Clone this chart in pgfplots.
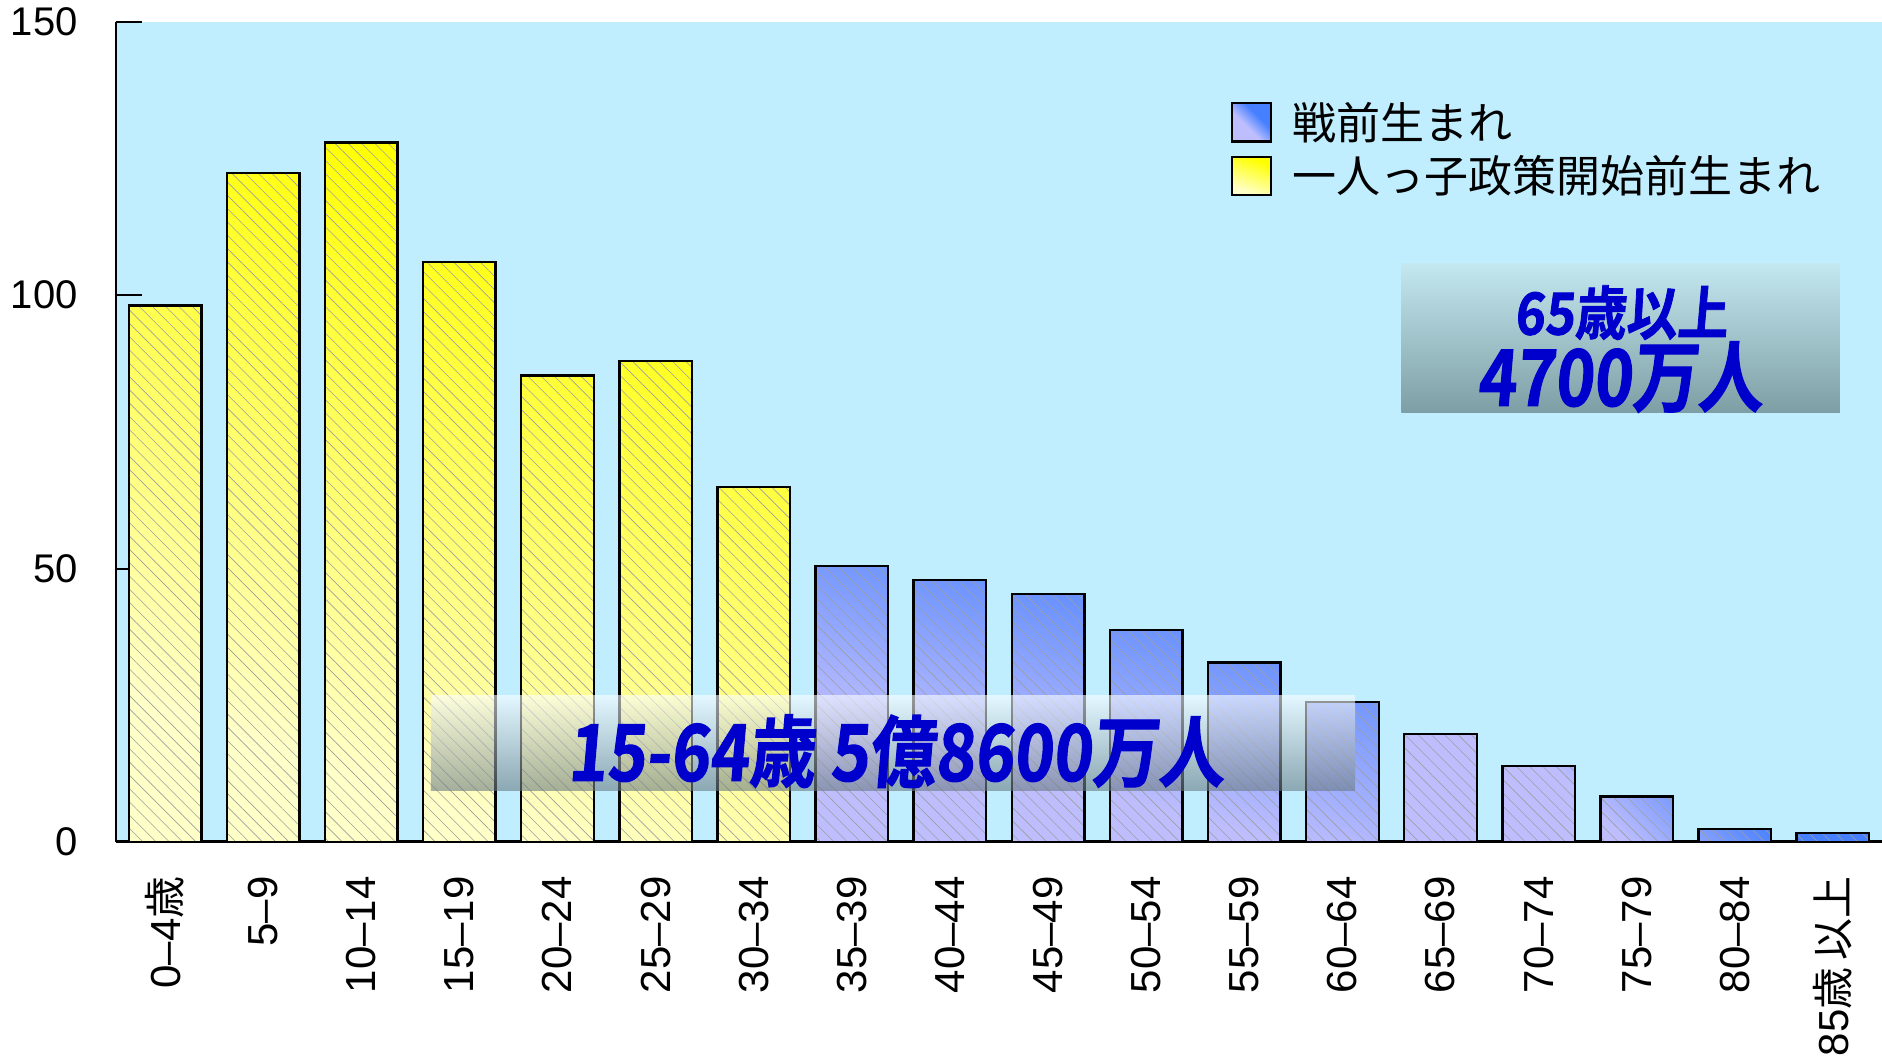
\documentclass[border=0pt]{standalone}
\usepackage{pgfplots}
\pgfplotsset{compat=1.18}
\usetikzlibrary{patterns.meta}
\usepackage{fontspec}
\setmainfont{Liberation Sans}
\newfontfamily\cjk{Noto Sans CJK JP}
\newfontfamily\cjkb[FakeSlant=0.1,FakeBold=1.5]{Noto Sans CJK JP Bold}

\definecolor{bgcyan}{RGB}{192,238,255}
\definecolor{ytop}{RGB}{255,255,0}
\definecolor{ybot}{RGB}{255,255,200}
\definecolor{btop}{RGB}{70,128,255}
\definecolor{bbot}{RGB}{190,190,255}
\definecolor{tblue}{RGB}{0,0,204}
\definecolor{boxAtop}{RGB}{196,232,240}
\definecolor{boxAbot}{RGB}{125,158,164}
\definecolor{boxBtop}{RGB}{250,253,255}
\definecolor{boxBbot}{RGB}{105,122,130}

\pgfdeclareverticalshading{yshade}{100bp}{color(0bp)=(ybot); color(28bp)=(ybot); color(72bp)=(ytop); color(100bp)=(ytop)}
\pgfdeclareverticalshading{bshade}{100bp}{color(0bp)=(bbot); color(37bp)=(bbot); color(75bp)=(btop); color(100bp)=(btop)}
\pgfdeclareverticalshading{dshade}{100bp}{color(0bp)=(bbot); color(42bp)=(bbot); color(62bp)=(btop); color(100bp)=(btop)}
\pgfdeclareverticalshading{boxBshade}{100bp}{color(0bp)=(boxBbot); color(25bp)=(boxBbot); color(60bp)=(boxBtop!70!boxBbot); color(75bp)=(boxBtop); color(100bp)=(boxBtop)}

\tikzset{
  hatchfill/.style={pattern={Lines[angle=-45,distance=4.7pt,line width=0.3pt]}, pattern color=black!38},
}

\begin{document}
\begin{tikzpicture}
\begin{axis}[
  scale only axis, width=883pt, height=410.2pt,
  xmin=-0.5, xmax=17.5, ymin=0, ymax=150,
  axis x line=bottom, axis y line=left,
  axis line style={-, black},
  x axis line style={line width=1.5pt},
  y axis line style={line width=1pt},
  ytick={0,50,100,150},
  xtick={0,...,17},
  xticklabels={{0–4{\cjk 歳}},5–9,10–14,15–19,20–24,25–29,30–34,35–39,40–44,45–49,50–54,55–59,60–64,65–69,70–74,75–79,80–84,{85{\cjk 歳\,以上}}},
  tick align=inside,
  major tick length=13pt,
  ytick style={line width=1pt, black},
  xtick style={draw=none},
  yticklabel style={font=\fontsize{20}{20}\selectfont, inner sep=0pt, xshift=-19pt},
  xticklabel style={font=\fontsize{21}{21}\selectfont, inner sep=0pt, yshift=-17pt, rotate=90, anchor=east},
  /pgf/number format/assume math mode=true,
  axis background/.style={fill=bgcyan},
  clip=false,
  legend cell align=left,
  legend style={at={(0.631,0.902)}, anchor=north west, draw=none, fill=none, inner sep=0pt,
    row sep=6.5pt, font=\cjk\fontsize{22}{22}\selectfont,
    nodes={inner sep=0pt, anchor=west},
    /tikz/every odd column/.append style={column sep=10pt}},
  legend image code/.code={\draw[#1,/tikz/.cd,line width=1pt] (0pt,-9.5pt) rectangle (19.5pt,9.5pt);
     \fill[pattern={Lines[angle=-45,distance=2pt,line width=0.3pt]}, pattern color=black!38] (0pt,-9.5pt) rectangle (19.5pt,9.5pt);
     \draw[line width=1pt] (0pt,-9.5pt) rectangle (19.5pt,9.5pt);},
]
% shaded bars
\addplot[ybar, bar width=0.74, bar shift=0pt, draw=black, line width=1.2pt, shade, shading=dshade, shading angle=-45]
  coordinates {(13,19.7) (14,13.95) (15,8.35) (16,2.35) (17,1.6)};
\addlegendentry{戦前生まれ}
\addplot[ybar, bar width=0.74, bar shift=0pt, draw=black, line width=1.2pt, shade, shading=yshade, shading angle=-20]
  coordinates {(0,98.1) (1,122.3) (2,127.9) (3,106.0) (4,85.3) (5,87.9) (6,64.9)};
\addlegendentry{一人っ子政策開始前生まれ}
\addplot[ybar, bar width=0.74, bar shift=0pt, draw=black, line width=1.2pt, shade, shading=bshade, shading angle=-15, forget plot]
  coordinates {(7,50.5) (8,47.9) (9,45.3) (10,38.8) (11,32.8) (12,25.6)};
% hatching on top of the shaded bars
\addplot[ybar, bar width=0.74, bar shift=0pt, draw=black, line width=1.2pt, hatchfill, forget plot]
  coordinates {(0,98.1) (1,122.3) (2,127.9) (3,106.0) (4,85.3) (5,87.9) (6,64.9)
    (7,50.5) (8,47.9) (9,45.3) (10,38.8) (11,32.8) (12,25.6)
    (13,19.7) (14,13.95) (15,8.35) (16,2.35) (17,1.6)};

\fill[top color=boxAtop, bottom color=boxAbot] (axis cs:12.60,105.7) rectangle (axis cs:17.07,78.6);
\node[text=tblue, font=\cjkb\fontsize{29}{29}\selectfont, xscale=0.88, inner sep=0pt] at (axis cs:14.84,96.8) {65歳以上};
\node[text=tblue, font=\cjkb\fontsize{39}{39}\selectfont, xscale=0.84, inner sep=0pt] at (axis cs:14.83,85.0) {4700万人};

\begin{scope}[transparency group, opacity=0.6]
\shade[shading=boxBshade] (axis cs:2.71,26.7) rectangle (axis cs:12.13,9.5);
\end{scope}
\node[text=tblue, font=\cjkb\fontsize{39}{39}\selectfont, xscale=0.85, inner sep=0pt] at (axis cs:7.45,16.6) {15-64歳 5億8600万人};
\end{axis}
\pgfresetboundingbox
\path[use as bounding box] (-58pt,-108pt) rectangle (883pt,421pt);
\end{tikzpicture}
\end{document}
